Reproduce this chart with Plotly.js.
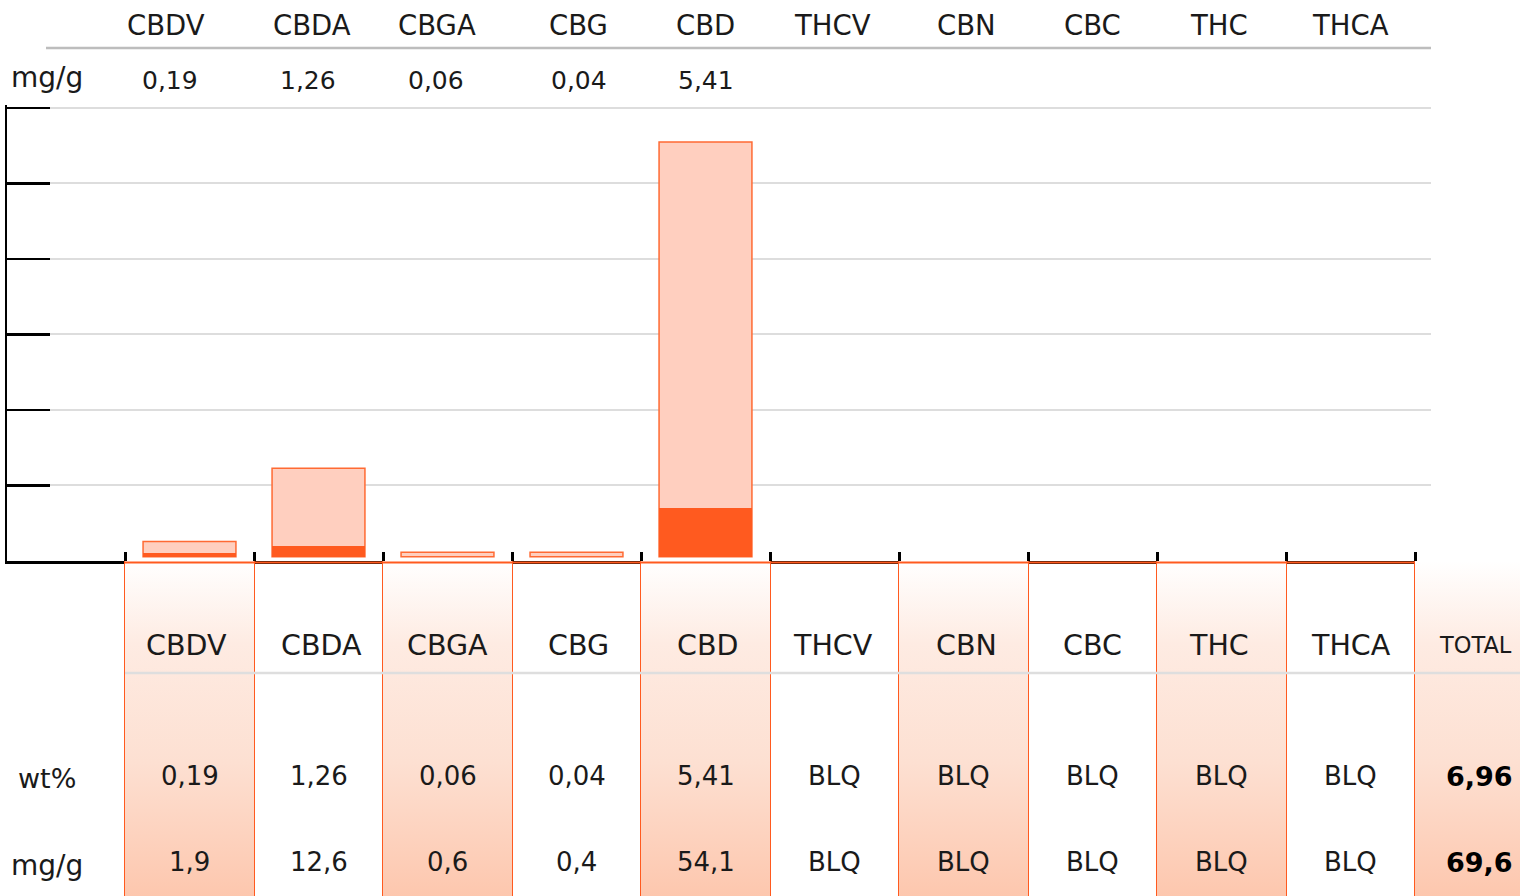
<!DOCTYPE html>
<html>
<head>
<meta charset="utf-8">
<script src="https://cdn.plot.ly/plotly-3.0.1.min.js"></script>
<style>html,body{margin:0;padding:0;background:#fff;}#chart{width:1520px;height:896px;}</style>
</head>
<body>
<div id="chart"></div>
<script>
// ---------- data ----------
const categories = ['CBDV','CBDA','CBGA','CBG','CBD','THCV','CBN','CBC','THC','THCA'];
const wtPercent  = [0.19, 1.26, 0.06, 0.04, 5.41, null, null, null, null, null];   // null = BLQ
const mgPerGram  = [1.9, 12.6, 0.6, 0.4, 54.1, null, null, null, null, null];
const totalLabel = 'TOTAL';
const totalWt    = 6.96;
const totalMg    = 69.6;
// bar heights as drawn (axis units)
const barUpper   = [0.20, 1.17, 0.06, 0.06, 5.49, null, null, null, null, null];
const barLower   = [0.05, 0.145, 0, 0, 0.645, null, null, null, null, null];
const axisTicks  = [0, 1, 2, 3, 4, 5, 6];
const blqText    = 'BLQ';

// ---------- helpers / geometry ----------
const W = 1520, H = 896;
const colW = 129, firstCenter = 189.5;           // px
const py = p => (H - p) / H;                      // pixel row -> paper y
const toIdx = p => (p - firstCenter) / colW;      // pixel col -> category index
const fmt = (v, d) => v == null ? blqText : v.toFixed(d).replace('.', ',');
const txt = '#1a1a1a';
const font = 'DejaVu Sans';
const orange = '#ff5a1f';
const tableTop = 335, hdrY = 251, hdrLineY = 223, wtY = 120, mgY = 34; // y2 units (px from bottom)

const traces = [];

// table column shading (every other column, plus TOTAL)
const tableCols = categories.concat([totalLabel]);
tableCols.forEach((c, i) => {
  if (i % 2 !== 0) return;
  traces.push({
    type: 'scatter', xaxis: 'x2', yaxis: 'y2', mode: 'none',
    x: [i - 0.5, i + 0.5, i + 0.5, i - 0.5, i - 0.5],
    y: [0, 0, tableTop, tableTop, 0],
    fill: 'toself',
    fillgradient: {type: 'vertical', colorscale: [[0, '#fdc7ae'], [0.4, '#fde0d2'], [0.75, '#feebe2'], [1, '#ffffff']]},
    hoverinfo: 'skip', showlegend: false
  });
});

// bars
traces.push({
  type: 'bar', x: categories, y: barUpper, base: 0.057, width: 0.72,
  marker: {color: '#ffcfbf', line: {color: '#ff6a33', width: 1.5}},
  hoverinfo: 'skip', showlegend: false, xaxis: 'x', yaxis: 'y'
});
traces.push({
  type: 'bar', x: categories, y: barLower, base: 0.057, width: 0.72,
  marker: {color: orange, line: {width: 0}},
  hoverinfo: 'skip', showlegend: false, xaxis: 'x', yaxis: 'y'
});

// ---------- annotations ----------
const ann = [];
const topShift = [-24, -7, -11, 2, 0, -2, 3, 0, -3, 0];
const topValShift = [-20, -11, -12, 2, 0, 0, 0, 0, 0, 0];
const botShift = [-3, 3, 0, 2, 2, -2, 3, 0, -3, 0];
categories.forEach((c, i) => {
  ann.push({xref: 'x', yref: 'paper', x: c, y: py(25), xshift: topShift[i], text: c, showarrow: false,
            xanchor: 'center', yanchor: 'middle', font: {family: font, size: 27.5, color: txt}});
  if (wtPercent[i] != null) {
    ann.push({xref: 'x', yref: 'paper', x: c, y: py(81), xshift: topValShift[i], text: fmt(wtPercent[i], 2), showarrow: false,
              xanchor: 'center', yanchor: 'middle', font: {family: font, size: 25, color: txt}});
  }
  // table
  ann.push({xref: 'x2', yref: 'y2', x: i, y: hdrY, xshift: botShift[i], text: c, showarrow: false,
            xanchor: 'center', yanchor: 'middle', font: {family: font, size: 28.5, color: txt}});
  ann.push({xref: 'x2', yref: 'y2', x: i, y: wtY, text: fmt(wtPercent[i], 2), showarrow: false,
            xanchor: 'center', yanchor: 'middle', font: {family: font, size: 26, color: txt}});
  ann.push({xref: 'x2', yref: 'y2', x: i, y: mgY, text: fmt(mgPerGram[i], 1), showarrow: false,
            xanchor: 'center', yanchor: 'middle', font: {family: font, size: 26, color: txt}});
});
const tIdx = categories.length;
ann.push({xref: 'x2', yref: 'y2', x: tIdx, y: hdrY, xshift: -4, text: totalLabel, showarrow: false,
          xanchor: 'center', yanchor: 'middle', font: {family: font, size: 22.5, color: txt}});
ann.push({xref: 'x2', yref: 'y2', x: tIdx, y: wtY, text: '<b>' + fmt(totalWt, 2) + '</b>', showarrow: false,
          xanchor: 'center', yanchor: 'middle', font: {family: font, size: 27, color: '#000'}});
ann.push({xref: 'x2', yref: 'y2', x: tIdx, y: mgY, text: '<b>' + fmt(totalMg, 1) + '</b>', showarrow: false,
          xanchor: 'center', yanchor: 'middle', font: {family: font, size: 27, color: '#000'}});
// row labels
[['mg/g', 78, 28], ['wt%', 778, 27], ['mg/g', 865, 28]].forEach(([t, p, s]) => {
  ann.push({xref: 'paper', yref: 'paper', x: 47 / W, y: py(p), text: t, showarrow: false,
            xanchor: 'center', yanchor: 'middle', font: {family: font, size: s, color: txt}});
});

// ---------- shapes ----------
const shapes = [
  // header rule at top
  {type: 'line', xref: 'paper', yref: 'paper', x0: 46 / W, x1: 1431 / W, y0: py(48), y1: py(48),
   line: {color: '#bdbdbd', width: 2.5}},
  // table header rule
  {type: 'line', xref: 'x2', yref: 'y2', x0: -0.5, x1: 11, y0: hdrLineY, y1: hdrLineY,
   line: {color: '#dedede', width: 2.5}},
  // table top border (orange)
  {type: 'line', xref: 'x2', yref: 'y2', x0: -0.5, x1: categories.length - 0.5, y0: tableTop - 1.5, y1: tableTop - 1.5,
   line: {color: orange, width: 2}}
];

const boundaries = tableCols.map((c, i) => i - 0.5);

const layout = {
  width: W, height: H,
  margin: {l: 0, r: 0, t: 0, b: 0},
  paper_bgcolor: '#fff', plot_bgcolor: 'rgba(0,0,0,0)',
  barmode: 'overlay', bargap: 0,
  showlegend: false,
  xaxis: {
    type: 'category', domain: [7 / W, 1431 / W], range: [toIdx(7), toIdx(1431)],
    anchor: 'y', tickson: 'boundaries', ticks: 'inside', ticklen: 9, tickwidth: 3, tickcolor: '#000',
    showticklabels: false, showgrid: false, zeroline: false,
    showline: true, linecolor: '#000', linewidth: 2.5, fixedrange: true
  },
  yaxis: {
    domain: [py(561), py(104.5)], range: [0, 6.045], tickmode: 'array', tickvals: axisTicks, anchor: 'x',
    ticks: 'inside', ticklen: 43, tickwidth: 2.5, tickcolor: '#000',
    showticklabels: false, showgrid: true, gridcolor: '#dddddd', gridwidth: 2,
    zeroline: false, showline: true, linecolor: '#000', linewidth: 2.5, fixedrange: true
  },
  xaxis2: {
    domain: [0, 1], range: [toIdx(0), toIdx(W)], anchor: 'y2',
    tickmode: 'array', tickvals: boundaries, showticklabels: false, ticks: '',
    showgrid: true, gridcolor: orange, gridwidth: 1.5, zeroline: false, showline: false, fixedrange: true
  },
  yaxis2: {
    domain: [0, py(561)], range: [0, tableTop], anchor: 'x2',
    showticklabels: false, showgrid: false, zeroline: false, showline: false, ticks: '', fixedrange: true
  },
  annotations: ann,
  shapes: shapes
};

Plotly.newPlot('chart', traces, layout, {displayModeBar: false, staticPlot: true});
</script>
</body>
</html>
